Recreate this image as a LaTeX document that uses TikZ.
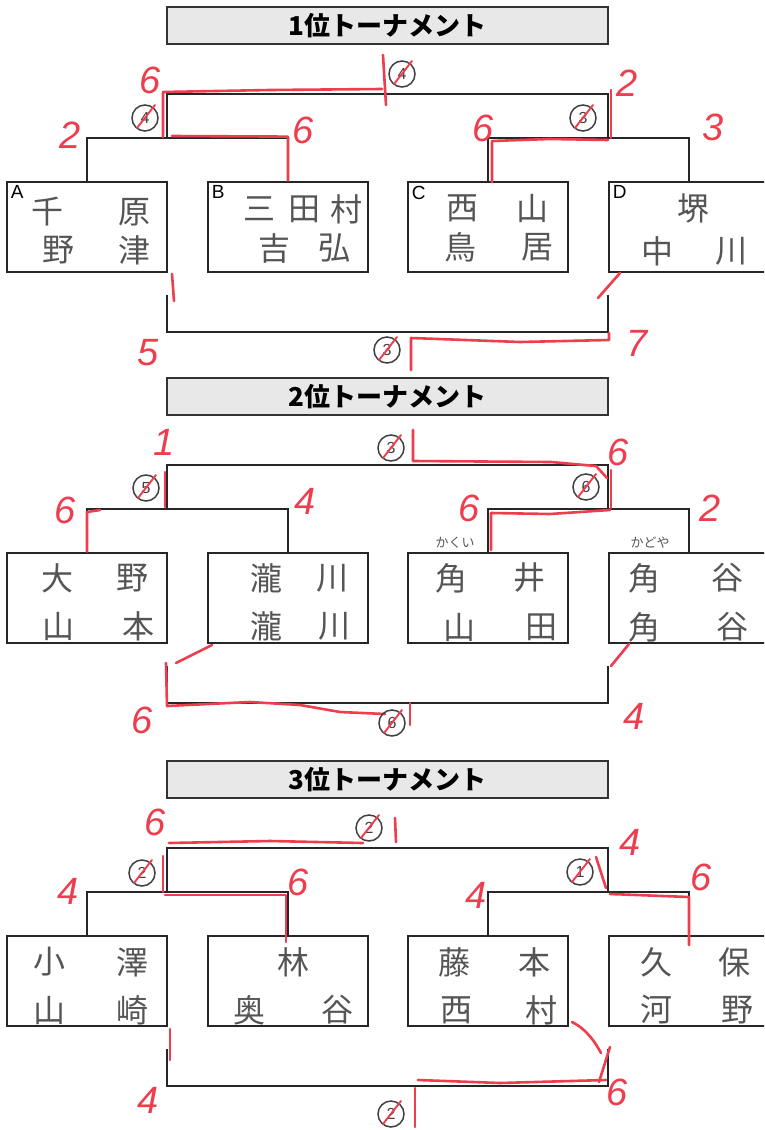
\documentclass[tikz,border=0pt]{standalone}
\usepackage{fontspec}
\newfontfamily\jp{Noto Sans CJK JP}
\newfontfamily\hnd{Liberation Sans}
\definecolor{pen}{RGB}{238,62,78}
\definecolor{ink}{RGB}{85,85,85}
\definecolor{ttl}{RGB}{232,232,232}
\tikzset{
  br/.style={line width=2.6pt, draw=black!85},
  entry/.style={draw=black!85, line width=2.8pt, rectangle, minimum width=160pt, minimum height=90pt, inner sep=0pt},
  titlebox/.style={draw=black!80, fill=ttl, line width=2.6pt, minimum width=441pt, minimum height=37pt, inner sep=0pt,
     font=\jp\bfseries\fontsize{26}{26}\selectfont},
  nm/.style={text=ink, font=\jp\fontsize{32}{32}\selectfont, inner sep=0pt},
  furi/.style={text=ink, font=\jp\fontsize{13}{13}\selectfont, inner sep=0pt},
  lbl/.style={font=\hnd\fontsize{19}{19}\selectfont, inner sep=0pt, anchor=north west},
  sc/.style={text=pen, font=\hnd\itshape\fontsize{38}{38}\selectfont, inner sep=0pt},
  rp/.style={draw=pen, line width=2.6pt, line cap=round, line join=round},
  circ/.style={draw=black!75, line width=1.5pt, circle, minimum size=26pt, inner sep=0pt,
     text=black!75, font=\hnd\fontsize{16}{16}\selectfont},
}
\newcommand\drawbracket[2]{%
  \node[titlebox] (T#2) at (387.5,25.5+#1) {#2位トーナメント};
  \node[entry] (A#2) at (87,227+#1) {};
  \node[entry] (B#2) at (288,227+#1) {};
  \node[entry] (C#2) at (488,227+#1) {};
  \node[entry] (D#2) at (689,227+#1) {};
  \coordinate (mL#2) at (167,138+#1);
  \coordinate (mR#2) at (608,138+#1);
  \coordinate (bL#2) at (167,295+#1);
  \coordinate (bR#2) at (608,295+#1);
  \draw[br] (A#2.north) |- (mL#2) -| (B#2.north);
  \draw[br] (C#2.north) |- (mR#2) -| (D#2.north);
  \draw[br] (mL#2) -- ++(0,-44) -| (mR#2);
  \draw[br] (bL#2) -- ++(0,37) -| (bR#2);
}
\newcommand\cmark[4]{% name, x, y, digit
  \node[circ] (#1) at (#2,#3) {#4};
  \draw[rp, line width=1.9pt] ([shift={(-8,10)}]#1.center) -- ([shift={(10,-13)}]#1.center);
}
\begin{document}
\begin{tikzpicture}[x=1pt,y=-1pt]
\useasboundingbox (0,0) rectangle (764,1130);
\clip (0,0) rectangle (764,1130);
\fill[white] (0,0) rectangle (764,1130);

% ---------- structures ----------
\drawbracket{0}{1}
\drawbracket{371}{2}
\drawbracket{754}{3}

% ---------- section 1 ----------
\node[lbl] (la) at (A1.north west) [xshift=5pt,yshift=-5pt] {A};
\node[lbl] (lb) at (B1.north west) [xshift=5pt,yshift=-5pt] {B};
\node[lbl] (lc) at (C1.north west) [xshift=5pt,yshift=-5pt] {C};
\node[lbl] (ld) at (D1.north west) [xshift=5pt,yshift=-5pt] {D};
\node[nm] (n101) at (47,212) {千};
\node[nm] (n102) at (134,212) {原};
\node[nm] (n103) at (58,250) {野};
\node[nm] (n104) at (134,250) {津};
\node[nm] (n105) at (259,209) {三};
\node[nm] (n106) at (304,209) {田};
\node[nm] (n107) at (346,209) {村};
\node[nm] (n108) at (274,248) {吉};
\node[nm] (n109) at (334,248) {弘};
\node[nm] (n110) at (462,208) {西};
\node[nm] (n111) at (532,208) {山};
\node[nm] (n112) at (460,247) {鳥};
\node[nm] (n113) at (537,247) {居};
\node[nm] (n114) at (693,208) {堺};
\node[nm] (n115) at (657,251) {中};
\node[nm] (n116) at (731,251) {川};

\draw[rp] (B1.north) -- ++(0,-44) -- (172,136);
\draw[rp] (163,137) -- (163,92) -- (270,90) -- (382,89);
\draw[rp] (383,55) -- (386,105);
\draw[rp] (611,90) -- (611,138);
\draw[rp] (492,182) -- (492,141) -- (550,139) -- (608,140);
\draw[rp] (172,274) -- (174,301);
\draw[rp] (620,273) -- (598,298);
\draw[rp] (411,370) -- (411,338) -- (520,342) -- (609,340) -- (609,333);
\cmark{c11}{145}{118}{4}
\cmark{c12}{402}{74}{4}
\cmark{c13}{583}{118}{3}
\cmark{c14}{387}{350}{3}
\node[sc] (s101) at (150,80) {6};
\node[sc] (s102) at (70,135) {2};
\node[sc] (s103) at (303,130) {6};
\node[sc] (s104) at (483,128) {6};
\node[sc] (s105) at (627,83) {2};
\node[sc] (s106) at (713,127) {3};
\node[sc] (s107) at (148,353) {5};
\node[sc] (s108) at (637,343) {7};

% ---------- section 2 ----------
\node[nm] (n201) at (57,578) {大};
\node[nm] (n202) at (132,578) {野};
\node[nm] (n203) at (58,626) {山};
\node[nm] (n204) at (138,626) {本};
\node[nm] (n205) at (266,578) {瀧};
\node[nm] (n206) at (332,578) {川};
\node[nm] (n207) at (266,626) {瀧};
\node[nm] (n208) at (334,626) {川};
\node[nm] (n209) at (451,578) {角};
\node[nm] (n210) at (529,578) {井};
\node[nm] (n211) at (459,627) {山};
\node[nm] (n212) at (541,627) {田};
\node[nm] (n213) at (644,578) {角};
\node[nm] (n214) at (727,578) {谷};
\node[nm] (n215) at (644,627) {角};
\node[nm] (n216) at (732,627) {谷};
\node[furi] (f201) at (455,543) {かくい};
\node[furi] (f202) at (650,543) {かどや};

\draw[rp] (165,472) -- (165,507);
\draw[rp] (A2.north) -- (87,512) -- (100,510);
\draw[rp] (413,430) -- (413,461) -- (551,462) -- (596,466) -- (607,478);
\draw[rp] (611,470) -- (611,508);
\draw[rp] (491,550) -- (491,513) -- (550,514) -- (610,510);
\draw[rp] (212,645) -- (176,663);
\draw[rp] (166,663) -- (167,706) -- (250,702) -- (300,705) -- (340,712) -- (385,714);
\draw[rp] (410,703) -- (410,725);
\draw[rp] (629,644) -- (611,666);
\cmark{c21}{146}{488}{5}
\cmark{c22}{391}{448}{3}
\cmark{c23}{586}{487}{6}
\cmark{c24}{392}{723}{6}
\node[sc] (s201) at (164,442) {1};
\node[sc] (s202) at (65,510) {6};
\node[sc] (s203) at (305,501) {4};
\node[sc] (s204) at (469,508) {6};
\node[sc] (s205) at (618,452) {6};
\node[sc] (s206) at (710,508) {2};
\node[sc] (s207) at (142,720) {6};
\node[sc] (s208) at (634,716) {4};

% ---------- section 3 ----------
\node[nm] (n301) at (49,962) {小};
\node[nm] (n302) at (132,962) {澤};
\node[nm] (n303) at (49,1010) {山};
\node[nm] (n304) at (132,1010) {崎};
\node[nm] (n305) at (293,962) {林};
\node[nm] (n306) at (249,1010) {奥};
\node[nm] (n307) at (337,1010) {谷};
\node[nm] (n308) at (454,962) {藤};
\node[nm] (n309) at (534,962) {本};
\node[nm] (n310) at (456,1010) {西};
\node[nm] (n311) at (541,1010) {村};
\node[nm] (n312) at (656,962) {久};
\node[nm] (n313) at (734,962) {保};
\node[nm] (n314) at (656,1010) {河};
\node[nm] (n315) at (737,1010) {野};

\draw[rp] (163,856) -- (163,892);
\draw[rp] (165,895) -- (286,895) -- (286,942);
\draw[rp] (169,843) -- (270,841) -- (363,843);
\draw[rp] (395,818) -- (396,842);
\draw[rp] (596,857) -- (606,888);
\draw[rp] (610,894) -- (689,897) -- (689,945);
\draw[rp] (170,1029) -- (170,1060);
\draw[rp] (572,1022) .. controls (588,1030) and (596,1044) .. (601,1053);
\draw[rp] (610,1047) -- (599,1082);
\draw[rp] (418,1080) -- (500,1083) -- (606,1080);
\draw[rp] (415,1088) -- (415,1127);
\cmark{c31}{142}{873}{2}
\cmark{c32}{369}{828}{2}
\cmark{c33}{580}{872}{1}
\cmark{c34}{391}{1114}{2}
\node[sc] (s301) at (155,822) {6};
\node[sc] (s302) at (68,891) {4};
\node[sc] (s303) at (298,882) {6};
\node[sc] (s304) at (476,895) {4};
\node[sc] (s305) at (630,842) {4};
\node[sc] (s306) at (701,877) {6};
\node[sc] (s307) at (148,1100) {4};
\node[sc] (s308) at (617,1092) {6};
\end{tikzpicture}
\end{document}
